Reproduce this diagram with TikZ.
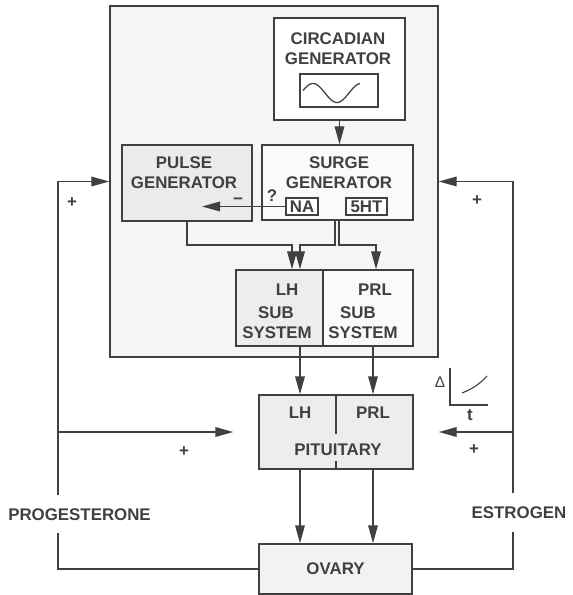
\documentclass[tikz,border=0pt]{standalone}
\usepackage{fontspec}
\setmainfont{Liberation Sans}
\usetikzlibrary{arrows.meta, positioning}

\begin{document}
\begin{tikzpicture}[x=0.25mm, y=-0.25mm, line width=1pt, color=black!75,
    >={Triangle[length=4.5mm, width=2.4mm]},
    box/.style={draw, inner sep=0pt},
    txt/.style={inner sep=0pt, align=center, font=\fontsize{12}{14}\selectfont\bfseries}]
    \useasboundingbox (0,0) rectangle (572,595);

    % Khung ngoai
    \node[box, fill=black!4, minimum width=82mm, minimum height=87.75mm] (brain) at (274,181.5) {};

    % Circadian generator
    \node[box, fill=white, minimum width=32.75mm, minimum height=25.5mm] (circ) at (339.5,69) {};
    \node[txt] (circtxt) at (338,49) {CIRCADIAN\\GENERATOR};
    \node[box, fill=white, minimum width=19.5mm, minimum height=8.25mm] (wave) at (339,90.5) {};
    \draw[line width=0.9pt] plot[domain=303:360, samples=40] (\x, {93-9.5*sin((\x-301)*7.5)});

    % Pulse va surge generator
    \node[box, fill=black!8, minimum width=32.5mm, minimum height=19mm] (pulse) at (187,183) {};
    \node[txt] (pulsetxt) at (184,173) {PULSE\\GENERATOR};
    \node[box, fill=black!2, minimum width=37.75mm, minimum height=18.75mm] (surge) at (337.5,182.5) {};
    \node[txt] (surgetxt) at (339,173) {SURGE\\GENERATOR};
    \node[box, txt, fill=white, minimum width=8mm, minimum height=4.25mm] (na) at (302,206.5) {NA};
    \node[box, txt, fill=white, minimum width=10.25mm, minimum height=4.25mm] (sht) at (366.5,206.5) {5HT};
    \node[txt] (quest) at (272,196) {?};
    \node[txt] (minus) at (238,201) {−};
    \coordinate (natip) at (202,206.5);
    \draw[->] (na.west) -- (natip);
    \draw[->] (circ.south) -- (circ.south |- surge.north);

    % LH va PRL sub system
    \node[box, fill=black!7, minimum width=21.75mm, minimum height=19mm] (lhsub) at (279.5,308) {};
    \node[box, fill=black!2, minimum width=22.5mm, minimum height=19mm] (prlsub) at (368,308) {};
    \node[txt] (lhsubA) at (287,290) {LH};
    \node[txt] (lhsubB) at (276,313) {SUB};
    \node[txt] (lhsubC) at (277,333) {SYSTEM};
    \node[txt] (prlsubA) at (375,290) {PRL};
    \node[txt] (prlsubB) at (358,313) {SUB};
    \node[txt] (prlsubC) at (363,333) {SYSTEM};
    \coordinate (jl) at (292,245);
    \coordinate (jm) at (300,245);
    \coordinate (jr) at (376,245);
    \draw[->] (pulse.south) |- (jl) -- (jl |- lhsub.north);
    \draw[->] ([xshift=-0.6mm]surge.south) |- (jm) -- (jm |- lhsub.north);
    \draw[->] ([xshift=0.4mm]surge.south) |- (jr) -- (jr |- prlsub.north);

    % Pituitary
    \node[box, fill=black!7, minimum width=38.5mm, minimum height=18.5mm] (pit) at (336,432) {};
    \draw (pit.north) -- ++(0,40);
    \draw (pit.south) -- ++(0,-9);
    \node[txt] (pitlh) at (300,413) {LH};
    \node[txt] (pitprl) at (373,413) {PRL};
    \node[txt] (pittxt) at (338,450) {PITUITARY};
    \draw[->] (lhsub.south -| pitlh) -- (pitlh |- pit.north);
    \draw[->] (prlsub.south -| pitprl) -- (pitprl |- pit.north);

    % Ovary
    \node[box, txt, fill=black!5, minimum width=38.25mm, minimum height=12.5mm] (ovary) at (335.5,569) {OVARY};
    \draw[->] (pitlh |- pit.south) -- (pitlh |- ovary.north);
    \draw[->] (pitprl |- pit.south) -- (pitprl |- ovary.north);

    % Progesterone (trai)
    \node[txt] (prog) at (79.5,515) {PROGESTERONE};
    \coordinate (lt) at (58,495);
    \coordinate (lb) at (58,533);
    \draw (ovary.west) -| (lb);
    \draw[->] (lt) |- (brain.west);
    \draw[->] (lt |- pit.west) -- ([xshift=-6.25mm]pit.west);

    % Estrogen (phai)
    \node[txt] (estr) at (519,513) {ESTROGEN};
    \coordinate (rt) at (513,493);
    \coordinate (rb) at (513,532);
    \draw (ovary.east) -| (rb);
    \draw[->] (rt) |- (brain.east);
    \draw[->] (rt |- pit.east) -- ([xshift=6.25mm]pit.east);

    % Dau +
    \node[txt] (plusA) at (72,203) {+};
    \node[txt] (plusB) at (184,452) {+};
    \node[txt] (plusC) at (477,201) {+};
    \node[txt] (plusD) at (474,450) {+};

    % Do thi nho
    \draw[line width=0.8pt] (450,368) |- (488,405);
    \draw[line width=0.8pt] (462,393) .. controls (472,389) and (480,384) .. (487,376);
    \node[txt, font=\fontsize{11}{13}\selectfont] (delta) at (440,382) {Δ};
    \node[txt] (tlab) at (470,415) {t};
\end{tikzpicture}
\end{document}
